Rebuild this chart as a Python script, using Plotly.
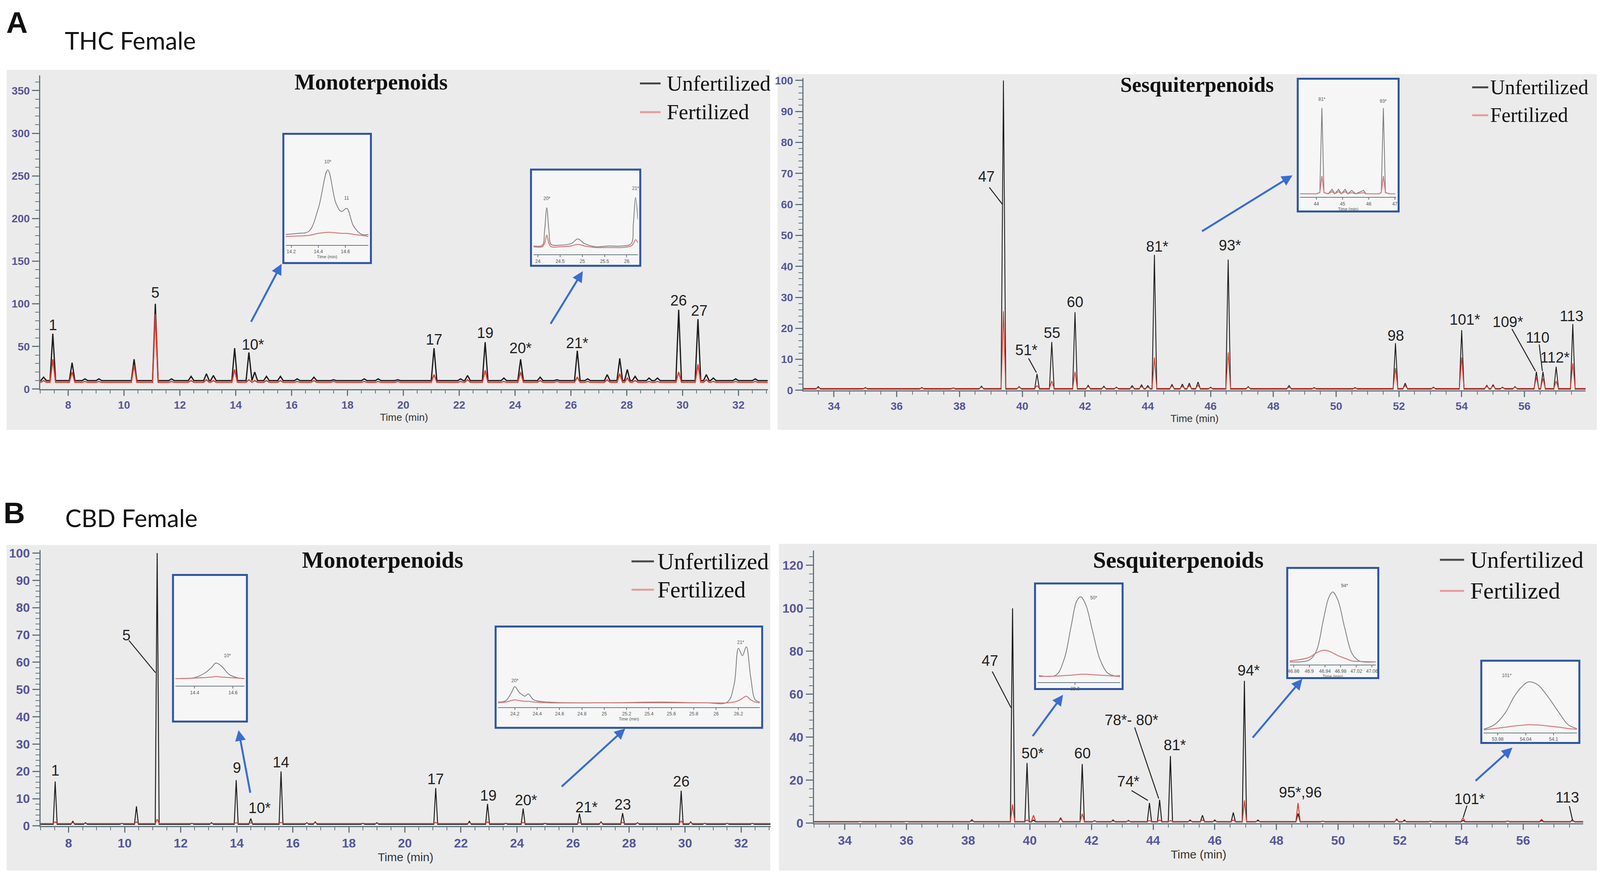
import plotly.graph_objects as go

W, H = 4550, 2242  # reference size; everything is placed as fractions of it

# ---------------- data: peak tables ----------------
# A  THC female, monoterpenoids
thc_mono_t = [7.12, 7.45, 8.14, 8.6, 9.1, 10.36, 11.12, 11.7, 12.4, 12.95, 13.2, 13.96, 14.47, 14.68,
              15.1, 15.6, 16.2, 16.8, 17.5, 18.6, 19.1, 19.8, 21.1, 22.05, 22.3, 22.93, 23.6, 24.2,
              24.9, 25.5, 26.23, 26.6, 27.3, 27.75, 28.02, 28.3, 28.8, 29.1, 29.86, 30.55, 30.85,
              31.1, 31.9, 32.6]
thc_mono_unf = [14, 65, 31, 12, 12, 35, 100, 12, 15, 18, 16, 48, 43, 20,
                15, 15, 12, 14, 11, 12, 12, 11, 48, 12, 16, 55, 13, 35,
                14, 11, 45, 12, 17, 36, 23, 15, 13, 13, 93, 82, 17,
                13, 12, 12]
thc_mono_fert = [10, 35, 20, 9, 9, 28, 88, 9, 10, 11, 10, 23, 11, 10,
                 10, 10, 9, 10, 9, 9, 9, 9, 17, 9, 11, 22, 9, 20,
                 10, 9, 14, 9, 11, 18, 13, 10, 9, 9, 20, 29, 11,
                 9, 9, 9]

# A  THC female, sesquiterpenoids
thc_sesq_t = [33.5, 35.0, 36.8, 37.8, 38.7, 39.40, 39.9, 40.47, 40.94, 41.68, 42.1, 42.6, 43.0, 43.5,
              43.8, 44.0, 44.21, 44.77, 45.1, 45.32, 45.6, 46.0, 46.56, 47.2, 48.5, 49.3, 50.6, 51.89,
              52.2, 53.1, 54.0, 54.8, 55.0, 55.3, 55.7, 56.38, 56.59, 57.01, 57.54]
thc_sesq_unf = [1.2, 0.9, 0.9, 0.8, 1.3, 100, 1.2, 5.3, 15.6, 25.2, 1.6, 1.3, 1.0, 1.5,
                1.8, 1.5, 43.7, 1.9, 2.0, 2.3, 2.7, 1.0, 42.2, 1.2, 1.5, 0.9, 0.9, 15.2,
                2.3, 1.0, 19.4, 1.6, 1.8, 1.0, 1.2, 6.0, 6.0, 7.6, 21.4]
thc_sesq_fert = [0.8, 0.7, 0.7, 0.7, 1.0, 25.5, 1.0, 1.5, 3.0, 6.0, 1.2, 1.0, 0.8, 1.0,
                 1.2, 1.0, 10.6, 1.4, 1.3, 1.5, 1.6, 0.8, 12.2, 1.0, 1.0, 0.7, 0.7, 7.2,
                 1.5, 0.8, 10.6, 1.3, 1.4, 0.8, 1.0, 4.2, 3.8, 3.0, 8.7]

# B  CBD female, monoterpenoids
cbd_mono_t = [7.52, 8.15, 8.6, 9.9, 10.42, 11.16, 12.4, 13.1, 13.98, 14.5, 15.58, 16.5, 16.8, 18.5,
              19.0, 21.1, 22.3, 22.95, 23.6, 24.22, 25.0, 26.23, 27.0, 27.77, 28.3, 29.86, 30.2,
              30.7, 31.5, 32.4]
cbd_mono_unf = [16.3, 1.7, 1.2, 1.0, 7.2, 100, 1.0, 1.2, 16.8, 2.7, 20, 1.2, 1.5, 1.0,
                1.2, 13.9, 1.7, 8.1, 1.0, 6.4, 1.0, 4.5, 1.5, 4.7, 1.2, 12.9, 1.5,
                1.0, 1.0, 1.0]
cbd_mono_fert = [1.5, 1.2, 1.0, 1.0, 1.5, 2.5, 1.0, 1.0, 1.2, 1.1, 1.3, 1.0, 1.2, 1.0,
                 1.0, 1.3, 1.2, 1.5, 1.0, 1.3, 1.0, 1.2, 1.2, 1.3, 1.0, 1.8, 1.2,
                 1.0, 1.0, 1.0]

# B  CBD female, sesquiterpenoids
cbd_sesq_t = [34.5, 36.0, 38.12, 39.44, 39.91, 40.12, 41.0, 41.7, 42.1, 42.7, 43.2, 43.88, 44.21,
              44.56, 45.2, 45.6, 46.0, 46.6, 46.96, 47.4, 48.7, 49.5, 51.9, 52.15, 53.0, 54.05,
              55.5, 56.6, 57.6]
cbd_sesq_unf = [0.9, 0.9, 1.6, 100, 28, 1.5, 2.5, 27.5, 1.2, 1.5, 1.3, 9.4, 10.9,
                31.25, 1.5, 3.7, 1.5, 5.0, 66.25, 1.5, 4.5, 1.0, 1.9, 1.5, 1.0, 1.3,
                1.0, 1.2, 1.6]
cbd_sesq_fert = [0.8, 0.8, 1.0, 8.75, 1.5, 3.7, 2.0, 4.4, 1.0, 1.0, 1.0, 1.2, 1.5,
                 1.2, 1.0, 1.5, 1.0, 1.5, 10.6, 1.0, 9.4, 0.9, 1.5, 1.0, 0.9, 2.5,
                 1.0, 1.8, 1.0]

# peak labels (text, retention time, label height)
thc_mono_labels = [("1", 7.45, 75), ("5", 11.12, 113), ("10*", 14.62, 52), ("17", 21.1, 58),
                   ("19", 22.93, 66), ("20*", 24.2, 48), ("21*", 26.23, 54), ("26", 29.86, 104),
                   ("27", 30.6, 92)]
thc_sesq_labels = [("47", 38.85, 69), ("51*", 40.13, 13), ("55", 40.94, 18.5), ("60", 41.68, 28.5),
                   ("81*", 44.3, 46.4), ("93*", 46.62, 46.8), ("98", 51.9, 17.6), ("101*", 54.1, 22.8),
                   ("109*", 55.47, 22), ("110", 56.42, 17), ("112*", 56.98, 10.6), ("113", 57.5, 24)]
cbd_mono_labels = [("1", 7.52, 20.3), ("5", 10.06, 69.8), ("9", 14.0, 21.3), ("10*", 14.82, 6.6),
                   ("14", 15.58, 23.3), ("17", 21.1, 17.1), ("19", 22.98, 11.1), ("20*", 24.32, 9.4),
                   ("21*", 26.48, 6.9), ("23", 27.77, 7.9), ("26", 29.86, 16.3)]
cbd_sesq_labels = [("47", 38.7, 75.6), ("50*", 40.09, 32.5), ("60", 41.7, 32.5), ("74*", 43.2, 19.4),
                   ("78*- 80*", 43.3, 48), ("81*", 44.7, 36.3), ("94*", 47.1, 71),
                   ("95*,96", 48.78, 14.4), ("101*", 54.26, 11.3), ("113", 57.44, 11.9)]

# leader lines (x0, y0, x1, y1) in data units
thc_sesq_leaders = [(38.95, 65.5, 39.37, 60), (40.2, 10.3, 40.45, 5.7),
                    (55.6, 19.8, 56.35, 6.2), (56.47, 14.8, 56.57, 6.2)]
cbd_mono_leaders = [(10.15, 68.0, 11.1, 56.2)]
cbd_sesq_leaders = [(38.78, 70.6, 39.39, 53.75), (43.3, 15.2, 43.83, 10.6),
                    (43.4, 44.6, 44.18, 11.5), (54.18, 8.2, 54.06, 2.8), (57.5, 8.0, 57.6, 1.6)]

# zoomed insets: time points, unfertilized and fertilized signal (% of inset height)
ins1_t = [14.16, 14.25, 14.33, 14.40, 14.47, 14.53, 14.57, 14.61, 14.66, 14.72, 14.77]
ins1_unf = [10, 11, 13, 35, 72, 40, 32, 35, 18, 10, 10]
ins1_fert = [8, 8.5, 9, 11, 12, 11.5, 11, 11, 10, 9, 8]

ins2_t = [23.9, 24.1, 24.15, 24.2, 24.25, 24.3, 24.5, 24.75, 24.9, 25.05, 25.3, 25.6, 25.9, 26.1,
          26.15, 26.2, 26.25]
ins2_unf = [11, 12, 30, 60, 30, 13, 12, 14, 20, 14, 10, 11, 11, 14, 40, 73, 45]
ins2_fert = [10, 10, 14, 25, 14, 10, 10, 11, 13, 11, 9, 9, 9, 11, 14, 19, 15]

ins3_t = [43.38, 44.0, 44.13, 44.21, 44.29, 44.45, 44.6, 44.7, 44.85, 44.95, 45.1, 45.2, 45.35,
          45.5, 45.8, 45.9, 46.4, 46.48, 46.56, 46.64, 46.8, 47.01]
ins3_unf = [3, 3, 4, 80, 4, 3, 7, 3, 7, 3, 7, 3, 6, 3, 6, 3, 3, 4, 80, 4, 3, 3]
ins3_fert = [3, 3, 4, 19, 4, 3, 5, 3, 5, 3, 5, 3, 4, 3, 4, 3, 3, 4, 19, 4, 3, 3]

ins4_t = [14.30, 14.40, 14.45, 14.49, 14.51, 14.54, 14.58, 14.62, 14.66]
ins4_unf = [7, 8, 12, 18, 22, 19, 11, 8, 7]
ins4_fert = [7, 7.5, 8, 8.5, 9, 8.5, 8, 7.5, 7]

ins5_t = [24.05, 24.12, 24.17, 24.2, 24.24, 24.29, 24.32, 24.37, 24.5, 25.0, 25.5, 25.9, 26.1,
          26.16, 26.2, 26.235, 26.27, 26.31, 26.35, 26.39]
ins5_unf = [7, 9, 20, 28, 20, 15, 18, 10, 7, 6, 7, 6, 7, 30, 80, 70, 82, 40, 10, 7]
ins5_fert = [6, 7, 9, 10, 9, 8, 8, 7, 6, 6, 6, 6, 6, 7, 9, 12, 15, 10, 7, 6]

ins6_t = [39.804, 39.849, 39.871, 39.89, 39.904, 39.915, 39.928, 39.947, 39.966, 39.986, 40.003, 40.02]
ins6_unf = [7, 7.5, 25, 62, 88, 93, 85, 55, 25, 10, 7, 7]
ins6_fert = [6, 6.5, 7, 7.5, 8, 8.5, 8.5, 8, 7.5, 7, 6.5, 6]

ins7_t = [46.85, 46.8995, 46.918, 46.936, 46.95, 46.96, 46.973, 46.991, 47.0095, 47.028, 47.07]
ins7_unf = [3, 5, 15, 50, 75, 81, 72, 40, 12, 4, 3]
ins7_fert = [4, 8, 13, 16, 15, 13, 10, 7, 4, 3.5, 3]

ins8_t = [53.95, 53.973, 53.996, 54.015, 54.031, 54.046, 54.065, 54.088, 54.112, 54.131, 54.15]
ins8_unf = [5, 12, 30, 55, 70, 78, 74, 55, 30, 12, 6]
ins8_fert = [4, 6, 8, 10, 11, 12, 11.5, 10, 8, 6, 5]

series_names = ["Unfertilized", "Fertilized"]

# ---------------- styling ----------------
UNF = "#1c1c1c"
FERT = "#e03a30"
INS_UNF = "#7b7b7b"
INS_FERT = "#d77b7b"
PANEL = "#ebebeb"
AXIS = "#5f7480"
TICKC = "#55559a"
BLUE = "#3a6dd1"
BOX = "#2f55a0"
NARROW = "Liberation Sans Narrow, Arial Narrow, Liberation Sans, sans-serif"
SERIF = "Liberation Serif, Times New Roman, serif"
SANS = "Lato, Carlito, Liberation Sans, sans-serif"


def xd(a, b):
    return [a / W, b / W]


def yd(top, bottom):
    return [1 - bottom / H, 1 - top / H]


def chrom(times, heights, base, hw, t0, t1):
    xs, ys = [t0], [base]
    for t, h in zip(times, heights):
        xs += [t - hw, t, t + hw]
        ys += [base, h, base]
    xs.append(t1)
    ys.append(base)
    return xs, ys


fig = go.Figure()
shapes, annotations = [], []

# gray panel backgrounds
for x0, x1, y0, y1 in [(10, 2190, 172, 1100), (2211, 4550, 183, 1100),
                       (10, 2190, 1397, 2236), (2215, 4550, 1394, 2236)]:
    shapes.append(dict(type="rect", xref="paper", yref="paper", x0=x0 / W, x1=x1 / W,
                       y0=1 - y1 / H, y1=1 - y0 / H, fillcolor=PANEL, line_width=0, layer="below"))

panels = [
    dict(n=1, px=(106, 2183), py=(186, 995), xr=[7.0, 33.05], yr=[0, 368], ydt=50, ymin=10,
         t=thc_mono_t, u=thc_mono_unf, f=thc_mono_fert, bu=10, bf=8, hw=0.1, lw=3.2,
         labels=thc_mono_labels, leaders=[], tfs=28, lfs=38,
         title="Monoterpenoids", tpos=(1050, 203), tsize=56,
         leg=(1818, 1877, 1892, 207, 281), legsize=55),
    dict(n=2, px=(2285, 4518), py=(193, 998), xr=[33.03, 57.95], yr=[0, 100.8], ydt=10, ymin=2,
         t=thc_sesq_t, u=thc_sesq_unf, f=thc_sesq_fert, bu=0.4, bf=0.6, hw=0.075, lw=2.2,
         labels=thc_sesq_labels, leaders=thc_sesq_leaders, tfs=28, lfs=38,
         title="Sesquiterpenoids", tpos=(3409, 211), tsize=54,
         leg=(4194, 4240, 4243, 217, 289), legsize=52),
    dict(n=3, px=(107, 2191), py=(1410, 2121), xr=[7.0, 33.05], yr=[0, 101.1], ydt=10, ymin=2,
         t=cbd_mono_t, u=cbd_mono_unf, f=cbd_mono_fert, bu=0.6, bf=0.9, hw=0.07, lw=2.4,
         labels=cbd_mono_labels, leaders=cbd_mono_leaders, tfs=32, lfs=38,
         title="Monoterpenoids", tpos=(1083, 1435), tsize=59,
         leg=(1794, 1858, 1866, 1439, 1512), legsize=59),
    dict(n=4, px=(2315, 4511), py=(1411, 2114), xr=[33.0, 57.95], yr=[0, 126.9], ydt=20, ymin=4,
         t=cbd_sesq_t, u=cbd_sesq_unf, f=cbd_sesq_fert, bu=0.6, bf=0.8, hw=0.07, lw=2.4,
         labels=cbd_sesq_labels, leaders=cbd_sesq_leaders, tfs=32, lfs=38,
         title="Sesquiterpenoids", tpos=(3355, 1435), tsize=60,
         leg=(4102, 4171, 4186, 1435, 1515), legsize=60),
]
panel_by_n = {p["n"]: p for p in panels}


def px_to_data(p, x_px, y_px):
    (a, b), (top, bot) = p["px"], p["py"]
    xr, yr = p["xr"], p["yr"]
    return (xr[0] + (x_px - a) / (b - a) * (xr[1] - xr[0]),
            yr[0] + (bot - y_px) / (bot - top) * (yr[1] - yr[0]))


layout = {}
for p in panels:
    n = p["n"]
    xa, ya = f"x{n}", f"y{n}"
    xu, yu = chrom(p["t"], p["u"], p["bu"], p["hw"], p["xr"][0], p["xr"][1])
    xf, yf = chrom(p["t"], p["f"], p["bf"], p["hw"], p["xr"][0], p["xr"][1])
    fig.add_trace(go.Scatter(x=xu, y=yu, mode="lines", name=series_names[0], xaxis=xa, yaxis=ya,
                             line=dict(color=UNF, width=p["lw"]), showlegend=False,
                             hoverinfo="skip"))
    fig.add_trace(go.Scatter(x=xf, y=yf, mode="lines", name=series_names[1], xaxis=xa, yaxis=ya,
                             line=dict(color=FERT, width=p["lw"]), showlegend=False,
                             hoverinfo="skip"))

    layout[f"xaxis{n}"] = dict(
        domain=xd(*p["px"]), range=p["xr"], anchor=ya, showline=True, linecolor=AXIS, linewidth=3,
        ticks="outside", ticklen=14, tickwidth=3, tickcolor=AXIS, dtick=2, tick0=0,
        minor=dict(dtick=0.5, ticks="outside", ticklen=8, tickwidth=2, tickcolor=AXIS),
        showgrid=False, zeroline=False,
        tickfont=dict(family=NARROW, size=p["tfs"], color=TICKC, weight="bold"),
        title=dict(text="Time (min)", standoff=8,
                   font=dict(family=NARROW, size=p["tfs"] - 2, color="#333333")))
    layout[f"yaxis{n}"] = dict(
        domain=yd(*p["py"]), range=p["yr"], anchor=xa, showline=True, linecolor=AXIS, linewidth=3,
        ticks="outside", ticklen=18, tickwidth=3, tickcolor=AXIS, dtick=p["ydt"], tick0=0,
        minor=dict(dtick=p["ymin"], ticks="outside", ticklen=10, tickwidth=2, tickcolor=AXIS),
        showgrid=False, zeroline=False,
        tickfont=dict(family=NARROW, size=p["tfs"], color=TICKC, weight="bold"))

    # legend drawn as line swatches + serif text
    lx0, lx1, ltx, ly1, ly2 = p["leg"]
    for name, yy, col in [(series_names[0], ly1, "#4a4a4a"), (series_names[1], ly2, "#e79a9a")]:
        shapes.append(dict(type="line", xref="paper", yref="paper", x0=lx0 / W, x1=lx1 / W,
                           y0=1 - yy / H, y1=1 - yy / H, line=dict(color=col, width=5)))
        annotations.append(dict(text=name, xref="paper", yref="paper", x=ltx / W, y=1 - yy / H,
                                xanchor="left", yanchor="middle", showarrow=False,
                                font=dict(family=SERIF, size=p["legsize"], color="#111111")))

    tx, ty = p["tpos"]
    annotations.append(dict(text=f"<b>{p['title']}</b>", xref="paper", yref="paper",
                            x=tx / W, y=1 - ty / H, xanchor="center", yanchor="middle",
                            showarrow=False,
                            font=dict(family=SERIF, size=p["tsize"], color="#111111")))
    for txt, lx_, ly_ in p["labels"]:
        annotations.append(dict(text=txt, x=lx_, y=ly_, xref=xa, yref=ya, showarrow=False,
                                xanchor="center", yanchor="middle",
                                font=dict(family=NARROW, size=p["lfs"], color="#222222")))
    for x0, y0, x1, y1 in p["leaders"]:
        shapes.append(dict(type="line", xref=xa, yref=ya, x0=x0, y0=y0, x1=x1, y1=y1,
                           line=dict(color="#222222", width=2.5)))

# insets: host panel, box px (x0, x1, y0, y1), axis line px, data, ticks, tiny labels, arrow
insets = [
    dict(host=1, box=(800, 1050, 337, 670), axy=623, xr=[14.16, 14.77], tv=[14.2, 14.4, 14.6],
         t=ins1_t, u=ins1_unf, f=ins1_fert, shape="spline", xt="Time (min)",
         tl=[("10*", 14.47, 80), ("11", 14.61, 45)], arrow=((707, 823), (795, 672))),
    dict(host=1, box=(1507, 1819, 429, 677), axy=648, xr=[23.9, 26.25], tv=[24, 24.5, 25, 25.5, 26],
         t=ins2_t, u=ins2_unf, f=ins2_fert, shape="spline", xt="",
         tl=[("20*", 24.2, 72), ("21*", 26.2, 85)], arrow=((1562, 828), (1655, 691))),
    dict(host=2, box=(3696, 3984, 195, 537), axy=500, xr=[43.38, 47.05], tv=[44, 45, 46, 47],
         t=ins3_t, u=ins3_unf, f=ins3_fert, shape="linear", xt="Time (min)",
         tl=[("81*", 44.21, 88), ("93*", 46.56, 86)], arrow=((3421, 589), (3681, 444))),
    dict(host=3, box=(485, 696, 1474, 1852), axy=1760, xr=[14.30, 14.66], tv=[14.4, 14.6],
         t=ins4_t, u=ins4_unf, f=ins4_fert, shape="spline", xt="",
         tl=[("10*", 14.57, 29)], arrow=((706, 2037), (672, 1874))),
    dict(host=3, box=(1406, 2167, 1607, 1868), axy=1815, xr=[24.05, 26.39],
         tv=[24.2, 24.4, 24.6, 24.8, 25.0, 25.2, 25.4, 25.6, 25.8, 26.0, 26.2],
         t=ins5_t, u=ins5_unf, f=ins5_fert, shape="spline", xt="Time (min)",
         tl=[("20*", 24.2, 36), ("21*", 26.22, 88)], arrow=((1593, 2021), (1776, 1870))),
    dict(host=4, box=(2946, 3196, 1496, 1768), axy=1750, xr=[39.80, 40.02], tv=[39.9],
         t=ins6_t, u=ins6_unf, f=ins6_fert, shape="spline", xt="",
         tl=[("50*", 39.95, 92)], arrow=((2938, 1891), (3026, 1783))),
    dict(host=4, box=(3666, 3926, 1456, 1740), axy=1705, xr=[46.85, 47.07],
         tv=[46.86, 46.9, 46.94, 46.98, 47.02, 47.06],
         t=ins7_t, u=ins7_unf, f=ins7_fert, shape="spline", xt="Time (min)",
         tl=[("94*", 46.99, 88)], arrow=((3566, 1895), (3709, 1742))),
    dict(host=4, box=(4220, 4500, 1695, 1907), axy=1880, xr=[53.95, 54.15], tv=[53.98, 54.04, 54.1],
         t=ins8_t, u=ins8_unf, f=ins8_fert, shape="spline", xt="",
         tl=[("101*", 54.0, 88)], arrow=((4202, 2006), (4309, 1919))),
]

for k, ins in enumerate(insets):
    n = 5 + k
    xa, ya = f"x{n}", f"y{n}"
    bx0, bx1, by0, by1 = ins["box"]
    shapes.append(dict(type="rect", xref="paper", yref="paper", x0=bx0 / W, x1=bx1 / W,
                       y0=1 - by1 / H, y1=1 - by0 / H, fillcolor="#f6f6f6",
                       line=dict(color=BOX, width=5), layer="below"))
    fig.add_trace(go.Scatter(x=ins["t"], y=ins["u"], mode="lines", xaxis=xa, yaxis=ya,
                             line=dict(color=INS_UNF, width=2, shape=ins["shape"]),
                             showlegend=False, hoverinfo="skip"))
    fig.add_trace(go.Scatter(x=ins["t"], y=ins["f"], mode="lines", xaxis=xa, yaxis=ya,
                             line=dict(color=INS_FERT, width=2.5, shape=ins["shape"]),
                             showlegend=False, hoverinfo="skip"))
    layout[f"xaxis{n}"] = dict(
        domain=xd(bx0 + 7, bx1 - 7), range=ins["xr"], anchor=ya, showline=True,
        linecolor="#6a7a86", linewidth=2, ticks="outside", ticklen=5, tickwidth=1.5,
        tickcolor="#6a7a86", tickvals=ins["tv"], showgrid=False, zeroline=False,
        tickfont=dict(family=NARROW, size=12, color="#555555"),
        title=dict(text=ins["xt"], standoff=2, font=dict(family=NARROW, size=11, color="#555555")))
    layout[f"yaxis{n}"] = dict(domain=yd(by0 + 18, ins["axy"]), range=[0, 100], anchor=xa,
                               visible=False)
    for txt, tx, ty in ins["tl"]:
        annotations.append(dict(text=txt, x=tx, y=ty, xref=xa, yref=ya, showarrow=False,
                                xanchor="center", yanchor="middle",
                                font=dict(family=NARROW, size=12, color="#555555")))
    # blue arrow, placed in the host panel's data coordinates so it scales with the page
    host = panel_by_n[ins["host"]]
    (tx0, ty0), (hx, hy) = ins["arrow"]
    hxd, hyd = px_to_data(host, hx, hy)
    txd, tyd = px_to_data(host, tx0, ty0)
    hxa, hya = f"x{ins['host']}", f"y{ins['host']}"
    annotations.append(dict(text="", x=hxd, y=hyd, xref=hxa, yref=hya, ax=txd, ay=tyd,
                            axref=hxa, ayref=hya, showarrow=True, arrowhead=2,
                            arrowsize=1.1, arrowwidth=5, arrowcolor=BLUE))

# panel letters and sample titles
for txt, x, y, fam, size in [("<b>A</b>", 40, 50, "Liberation Sans, Arial, sans-serif", 76),
                             ("THC Female", 363, 96, SANS, 62),
                             ("<b>B</b>", 32, 1314, "Liberation Sans, Arial, sans-serif", 76),
                             ("CBD Female", 366, 1326, SANS, 62)]:
    annotations.append(dict(text=txt, xref="paper", yref="paper", x=x / W, y=1 - y / H,
                            xanchor="center", yanchor="middle", showarrow=False,
                            font=dict(family=fam, size=size, color="#111111")))

# the figure fills the browser window, so nothing falls outside the visible page
fig.update_layout(
    autosize=True, margin=dict(l=0, r=0, t=0, b=0, pad=0, autoexpand=False),
    paper_bgcolor="white", plot_bgcolor="rgba(0,0,0,0)",
    shapes=shapes, annotations=annotations, showlegend=False,
    **layout,
)

fig.write_html("out.html", default_width="100%", default_height="calc(100vh - 16px)")
